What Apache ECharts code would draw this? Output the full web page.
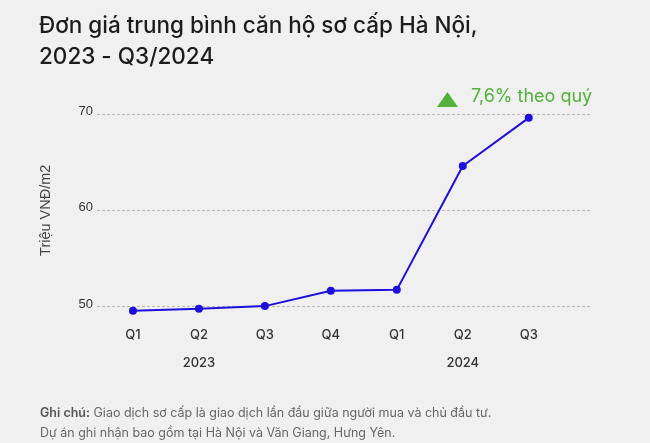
<!DOCTYPE html>
<html>
<head>
<meta charset="utf-8">
<script src="https://cdn.jsdelivr.net/npm/echarts@6/dist/echarts.min.js"></script>
<style>
html,body{margin:0;padding:0;background:#f0f0f0;}
#c{width:650px;height:443px;}
</style>
</head>
<body>
<div id="c"></div>
<script>
const quarters = ['Q1','Q2','Q3','Q4','Q1','Q2','Q3'];
const years = ['2023','2024'];
const yearPositions = [1, 5];
const prices = [49.55, 49.76, 50.04, 51.63, 51.73, 64.6, 69.6];
const yTicks = [50, 60, 70];
const annotationText = '7,6% theo quý';
const titleText = 'Đơn giá trung bình căn hộ sơ cấp Hà Nội,\n2023 - Q3/2024';
const yName = 'Triệu VNĐ/m2';

const chart = echarts.init(document.getElementById('c'), null, {renderer:'canvas'});
const idx = quarters.map((q,i)=>i);
chart.setOption({
  backgroundColor:'#f0f0f0',
  animation:false,
  title:{
    text:titleText, left:39, top:11, padding:0,
    textStyle:{fontFamily:'Inter', fontSize:22.5, fontWeight:500, color:'#1c1c1c', lineHeight:31}
  },
  grid:{left:97, right:59, top:114, bottom:136.5, containLabel:false},
  xAxis:[{
    type:'value', min:-0.545, max:6.944,
    axisLine:{show:false}, axisTick:{show:false}, splitLine:{show:false},
    axisLabel:{customValues:idx, formatter:v=>quarters[Math.round(v)], margin:22,
      fontFamily:'Inter', fontSize:13, fontWeight:500, color:'#333'}
  },{
    type:'value', min:-0.545, max:6.944, position:'bottom', offset:28,
    axisLine:{show:false}, axisTick:{show:false}, splitLine:{show:false},
    axisLabel:{customValues:yearPositions, formatter:v=>years[yearPositions.indexOf(Math.round(v))], margin:22,
      fontFamily:'Inter', fontSize:13, fontWeight:500, color:'#333'}
  }],
  yAxis:{
    type:'value', min:yTicks[0], max:yTicks[yTicks.length-1], interval:10,
    name:yName, nameLocation:'middle', nameGap:44, nameRotate:90,
    nameTextStyle:{fontFamily:'Liberation Sans', fontSize:14.5, color:'#444'},
    axisLine:{show:false}, axisTick:{show:false},
    axisLabel:{fontFamily:'Liberation Sans', fontSize:13, color:'#333', margin:4, verticalAlign:'bottom', padding:[0,0,-4,0]},
    splitLine:{show:true, lineStyle:{color:'#b8b8b8', type:[3,2], width:1}}
  },
  series:[{
    type:'line', xAxisIndex:0,
    data:prices.map((v,i)=>[i,v]),
    clip:false,
    symbol:'circle', symbolSize:8,
    lineStyle:{color:'#1c0fdc', width:2},
    itemStyle:{color:'#1c0fdc'}
  }],
  graphic:[
    {type:'polygon', shape:{points:[[447.5,92],[437,107],[458,107]]}, style:{fill:'#52b23a'}},
    {type:'text', left:471, top:88, style:{text:annotationText, fontFamily:'Inter', fontSize:18, fill:'#52b23a'}},
    {type:'text', left:40, top:403, style:{
      text:'{b|Ghi chú:} Giao dịch sơ cấp là giao dịch lần đầu giữa người mua và chủ đầu tư.\nDự án ghi nhận bao gồm tại Hà Nội và Văn Giang, Hưng Yên.',
      rich:{b:{fontFamily:'Inter', fontSize:12.5, fontWeight:600, fill:'#555', lineHeight:20}},
      fontFamily:'Inter', fontSize:12.5, fill:'#666', lineHeight:20}}
  ]
});
</script>
</body>
</html>
